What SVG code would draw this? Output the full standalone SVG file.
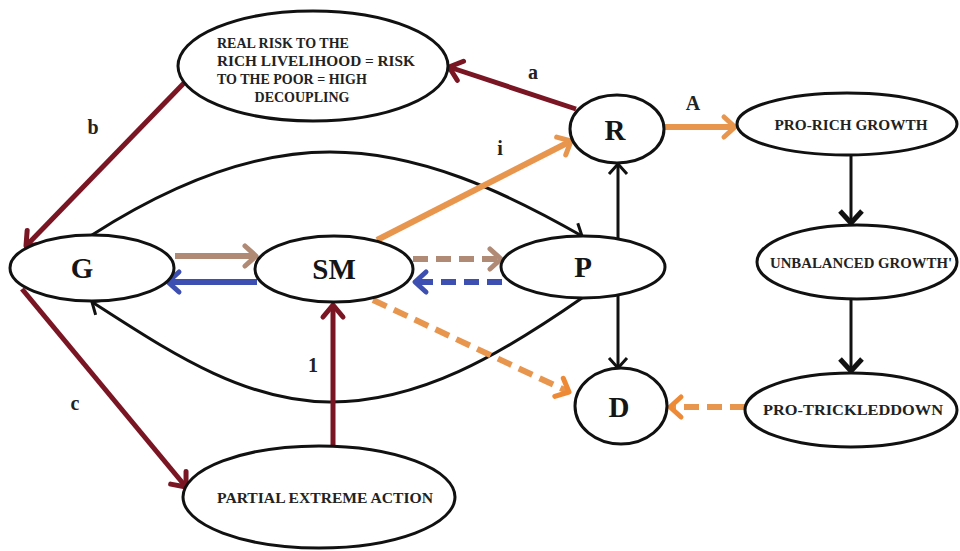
<svg xmlns="http://www.w3.org/2000/svg" width="960" height="551" viewBox="0 0 960 551">
<style>
.node ellipse{fill:#fff;stroke:#111;stroke-width:3}
.big{font-family:"Liberation Serif",serif;font-weight:bold;font-size:29px;fill:#151515;text-anchor:middle}
.small{font-family:"Liberation Serif",serif;font-weight:bold;font-size:14px;fill:#222}
.lbl{font-family:"Liberation Serif",serif;font-weight:bold;font-size:20px;fill:#222;text-anchor:middle}
.blk{fill:none;stroke:#111;stroke-width:3}
.red{fill:none;stroke:#7a1523;stroke-width:5}
.org{fill:none;stroke:#e8964e;stroke-width:6}
.tan{fill:none;stroke:#b08a74;stroke-width:6}
.blu{fill:none;stroke:#3d4fb0;stroke-width:6}
.dash{stroke-dasharray:15 8}
</style>
<defs>
<marker id="mBlk" markerUnits="userSpaceOnUse" markerWidth="30" markerHeight="30" viewBox="-15 -15 30 30" refX="0" refY="0" orient="auto" overflow="visible"><path d="M-10,-9 L0,0 L-10,9" fill="none" stroke="#111" stroke-width="3" stroke-linejoin="round"/></marker>
<marker id="mBlkT" markerUnits="userSpaceOnUse" markerWidth="30" markerHeight="30" viewBox="-15 -15 30 30" refX="0" refY="0" orient="auto" overflow="visible"><path d="M-12,-11 L0,0 L-12,11" fill="none" stroke="#111" stroke-width="5" stroke-linejoin="round"/></marker>
<marker id="mRed" markerUnits="userSpaceOnUse" markerWidth="30" markerHeight="30" viewBox="-15 -15 30 30" refX="0" refY="0" orient="auto" overflow="visible"><path d="M-12,-10 L0,0 L-12,10" fill="none" stroke="#7a1523" stroke-width="5" stroke-linejoin="round" stroke-linecap="round"/></marker>
<marker id="mOrg" markerUnits="userSpaceOnUse" markerWidth="30" markerHeight="30" viewBox="-15 -15 30 30" refX="0" refY="0" orient="auto" overflow="visible"><path d="M-11,-10 L0,0 L-11,10" fill="none" stroke="#e8964e" stroke-width="5" stroke-linejoin="round" stroke-linecap="round"/></marker>
<marker id="mOrg2" markerUnits="userSpaceOnUse" markerWidth="30" markerHeight="30" viewBox="-15 -15 30 30" refX="0" refY="0" orient="auto" overflow="visible"><path d="M-11,-10 L0,0 L-11,10" fill="none" stroke="#ee8a36" stroke-width="5" stroke-linejoin="round" stroke-linecap="round"/></marker>
<marker id="mTan" markerUnits="userSpaceOnUse" markerWidth="30" markerHeight="30" viewBox="-15 -15 30 30" refX="0" refY="0" orient="auto" overflow="visible"><path d="M-11,-10 L0,0 L-11,10" fill="none" stroke="#b08a74" stroke-width="5" stroke-linejoin="round" stroke-linecap="round"/></marker>
<marker id="mBlu" markerUnits="userSpaceOnUse" markerWidth="30" markerHeight="30" viewBox="-15 -15 30 30" refX="0" refY="0" orient="auto" overflow="visible"><path d="M-11,-10 L0,0 L-11,10" fill="none" stroke="#3d4fb0" stroke-width="5" stroke-linejoin="round" stroke-linecap="round"/></marker>
</defs>
<rect width="960" height="551" fill="#fff"/>

<g id="connectors">
<path class="blk" d="M92,235 C170,185 250,152 330,152 C420,152 505,192 582,236" marker-end="url(#mBlk)"/>
<path class="blk" d="M582,298 C500,355 420,402 330,402 C240,402 160,345 92,302" marker-end="url(#mBlk)"/>
<line class="blk" x1="618" y1="240" x2="618" y2="164" marker-end="url(#mBlk)"/>
<line class="blk" x1="618" y1="295" x2="618" y2="368" marker-end="url(#mBlk)"/>
<line class="blk" stroke-width="6" x1="851" y1="155" x2="851" y2="223" marker-end="url(#mBlkT)"/>
<line class="blk" stroke-width="6" x1="851" y1="300" x2="851" y2="371" marker-end="url(#mBlkT)"/>
<line class="red" x1="576" y1="109" x2="449" y2="67" marker-end="url(#mRed)"/>
<line class="red" x1="184" y1="83" x2="26" y2="246" marker-end="url(#mRed)"/>
<line class="red" x1="22" y1="289" x2="186" y2="487" marker-end="url(#mRed)"/>
<line class="red" x1="333" y1="446" x2="333" y2="305" marker-end="url(#mRed)"/>
<line class="org" x1="377" y1="240" x2="571" y2="141" marker-end="url(#mOrg)"/>
<line class="org" x1="664" y1="127" x2="735" y2="127" marker-end="url(#mOrg)"/>
<line class="org dash" x1="373" y1="300" x2="569" y2="392" marker-end="url(#mOrg2)"/>
<line class="org dash" stroke="#d59a66" x1="745" y1="407" x2="670" y2="407" marker-end="url(#mOrg2)"/>
<line class="tan" x1="175" y1="256" x2="256" y2="256" marker-end="url(#mTan)"/>
<line class="blu" x1="257" y1="282" x2="168" y2="282" marker-end="url(#mBlu)"/>
<line class="tan dash" x1="413" y1="259" x2="501" y2="259" marker-end="url(#mTan)"/>
<line class="blu dash" stroke="#3c4a9a" x1="502" y1="282" x2="415" y2="282" marker-end="url(#mBlu)"/>
<text class="lbl" x="533" y="79">a</text>
<text class="lbl" x="93" y="134">b</text>
<text class="lbl" x="75" y="410">c</text>
<text class="lbl" x="313" y="372" font-size="22">1</text>
<text class="lbl" x="500" y="155" font-size="22">i</text>
<text class="lbl" x="693" y="110" font-size="22">A</text>
</g>

<g id="risk" class="node">
<ellipse cx="313" cy="66" rx="135" ry="55"/>
<text class="small" x="217" y="48" font-size="14.5">REAL RISK TO THE</text>
<text class="small" x="217" y="66" font-size="14.5" textLength="198" lengthAdjust="spacingAndGlyphs">RICH LIVELIHOOD = RISK</text>
<text class="small" x="217" y="84" font-size="14.5">TO THE POOR = HIGH</text>
<text class="small" x="302" y="102" font-size="14.5" text-anchor="middle" fill="#4b5a8c">DECOUPLING</text>
</g>
<g id="R" class="node"><ellipse cx="617" cy="129" rx="47" ry="34"/><text class="big" x="615" y="140">R</text></g>
<g id="prorich" class="node"><ellipse cx="847" cy="124" rx="110" ry="31"/><text class="small" x="851" y="130" text-anchor="middle" textLength="153" lengthAdjust="spacingAndGlyphs">PRO-RICH GROWTH</text></g>
<g id="G" class="node"><ellipse cx="92" cy="268" rx="82" ry="33"/><text class="big" x="82" y="278">G</text></g>
<g id="SM" class="node"><ellipse cx="334" cy="269" rx="79" ry="33"/><text class="big" x="334" y="279">SM</text></g>
<g id="P" class="node"><ellipse cx="583" cy="267" rx="82" ry="31"/><text class="big" x="583" y="277">P</text></g>
<g id="unbal" class="node"><ellipse cx="857" cy="262" rx="100" ry="37"/><text class="small" x="861" y="268" text-anchor="middle" textLength="182" lengthAdjust="spacingAndGlyphs">UNBALANCED GROWTH'</text></g>
<g id="D" class="node"><ellipse cx="621" cy="406" rx="46" ry="38"/><text class="big" x="619" y="417">D</text></g>
<g id="trickle" class="node"><ellipse cx="851" cy="410" rx="106" ry="37"/><text class="small" x="853" y="415" text-anchor="middle" textLength="180" lengthAdjust="spacingAndGlyphs">PRO-TRICKLEDDOWN</text></g>
<g id="partial" class="node"><ellipse cx="319" cy="497" rx="136" ry="51"/><text class="small" x="325" y="503" text-anchor="middle" textLength="216" lengthAdjust="spacingAndGlyphs">PARTIAL EXTREME ACTION</text></g>
</svg>
